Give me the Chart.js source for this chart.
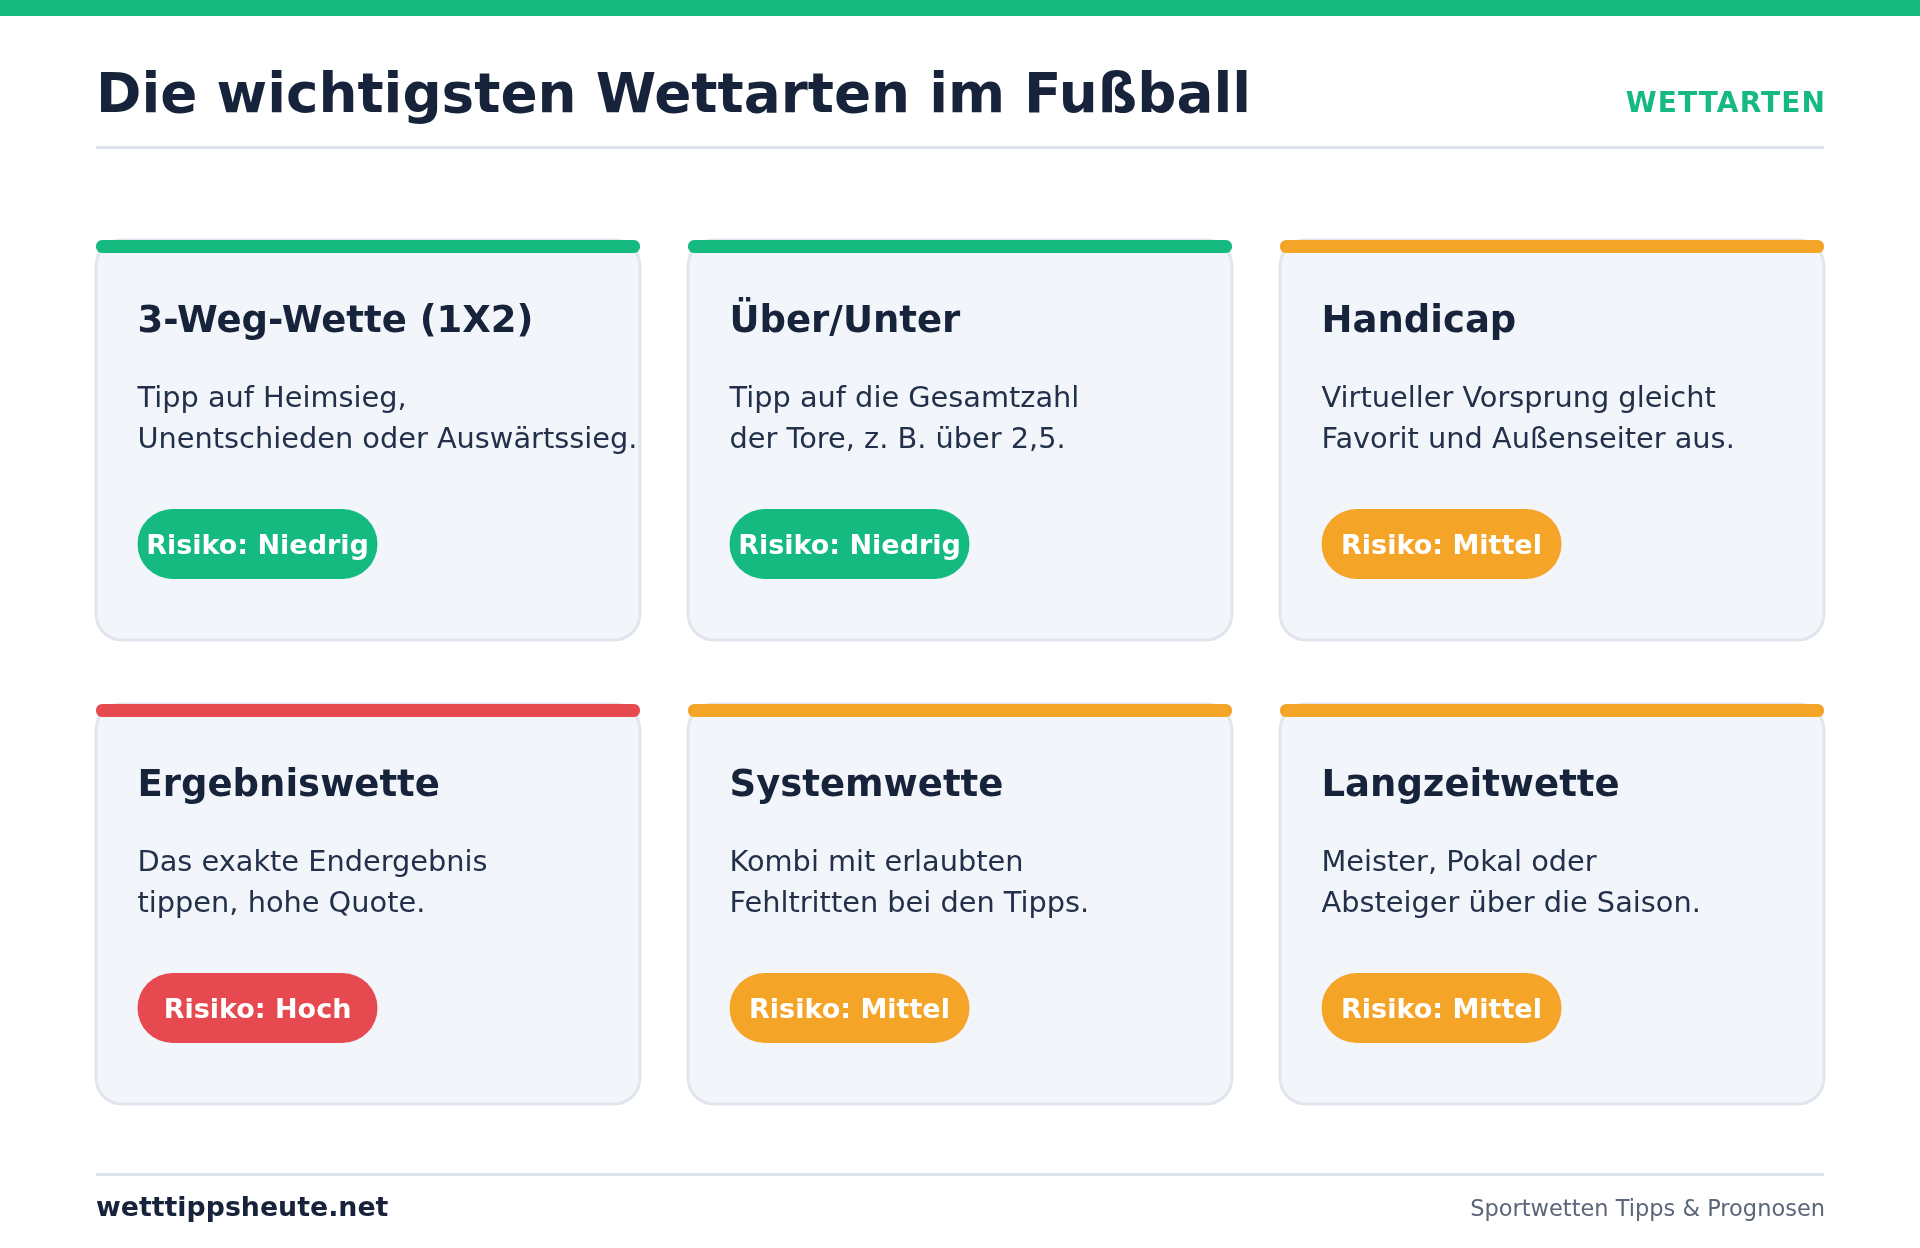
<!DOCTYPE html>
<html lang="de">
<head>
<meta charset="utf-8">
<title>Die wichtigsten Wettarten im Fußball</title>
<style>
  html, body { margin: 0; background: #ffffff; }
  canvas { display: block; }
</style>
</head>
<body>
<canvas id="wettChart" width="1920" height="1248"></canvas>
<script src="https://cdn.jsdelivr.net/npm/chart.js@4"></script>
<script>
const pageTitle = "Die wichtigsten Wettarten im Fußball";
const pageTag = "WETTARTEN";
const footerBrand = "wetttippsheute.net";
const footerNote = "Sportwetten Tipps & Prognosen";

const betTypes = ["3-Weg-Wette (1X2)", "Über/Unter", "Handicap", "Ergebniswette", "Systemwette", "Langzeitwette"];
const firstLines = ["Tipp auf Heimsieg,", "Tipp auf die Gesamtzahl", "Virtueller Vorsprung gleicht", "Das exakte Endergebnis", "Kombi mit erlaubten", "Meister, Pokal oder"];
const secondLines = ["Unentschieden oder Auswärtssieg.", "der Tore, z. B. über 2,5.", "Favorit und Außenseiter aus.", "tippen, hohe Quote.", "Fehltritten bei den Tipps.", "Absteiger über die Saison."];
const riskLevels = ["Niedrig", "Niedrig", "Mittel", "Hoch", "Mittel", "Mittel"];
const columns = [0, 1, 2, 0, 1, 2];
const rows = [0, 0, 0, 1, 1, 1];

const riskColors = { Niedrig: "#15BA80", Mittel: "#F4A527", Hoch: "#E64A50" };
const font = "'DejaVu Sans', sans-serif";
const dark = "#16233A";
const rule = "#E0E5ED";

const CARD_W = 544;
const CARD_H = 400;

function drawText(ctx, text, x, y, style, color, align = "left", spacing = "0px") {
  ctx.font = style + " " + font;
  ctx.fillStyle = color;
  ctx.textAlign = align;
  ctx.textBaseline = "alphabetic";
  ctx.letterSpacing = spacing;
  ctx.fillText(text, x, y);
  ctx.letterSpacing = "0px";
}

function fillRound(ctx, x, y, w, h, r, color) {
  ctx.beginPath();
  ctx.roundRect(x, y, w, h, r);
  ctx.fillStyle = color;
  ctx.fill();
}

// header, footer and the six cards; cards sit where the scales put each point
const cardsPlugin = {
  id: "cards",
  afterDatasetsDraw(chart) {
    const { ctx } = chart;
    ctx.save();

    fillRound(ctx, 0, 0, 1920, 16, 0, riskColors.Niedrig);
    drawText(ctx, pageTitle, 96, 112, "bold 54.8px", dark);
    drawText(ctx, pageTag, 1826, 112, "bold 28px", riskColors.Niedrig, "right", "1.1px");
    fillRound(ctx, 96, 146, 1728, 3, 0, rule);

    chart.getDatasetMeta(0).data.forEach((point, i) => {
      const left = point.x - CARD_W / 2;
      const top = point.y;
      const color = riskColors[riskLevels[i]];

      ctx.beginPath();
      ctx.roundRect(left, top, CARD_W, CARD_H, 26);
      ctx.fillStyle = "#F2F5FA";
      ctx.fill();
      ctx.lineWidth = 3;
      ctx.strokeStyle = rule;
      ctx.stroke();
      fillRound(ctx, left, top, CARD_W, 13, 6, color);

      drawText(ctx, betTypes[i], left + 41.5, top + 92, "bold 37px", dark);
      drawText(ctx, firstLines[i], left + 41.5, top + 167, "28.8px", "#22304A");
      drawText(ctx, secondLines[i], left + 41.5, top + 208, "28.8px", "#22304A");

      fillRound(ctx, left + 41.5, top + 269, 240, 70, 35, color);
      drawText(ctx, "Risiko: " + riskLevels[i], left + 161.5, top + 313.5, "bold 27px", "#FFFFFF", "center");
    });

    fillRound(ctx, 96, 1173, 1728, 3, 0, rule);
    drawText(ctx, footerBrand, 96, 1216, "bold 26.8px", dark);
    drawText(ctx, footerNote, 1825, 1216, "22.5px", "#5B6679", "right");
    ctx.restore();
  },
};

new Chart(document.getElementById("wettChart"), {
  type: "scatter",
  data: {
    labels: betTypes,
    datasets: [
      {
        data: columns.map((c, i) => ({ x: c, y: rows[i] })),
        pointRadius: 0,
      },
    ],
  },
  options: {
    responsive: false,
    animation: false,
    layout: { padding: 0 },
    plugins: { legend: { display: false }, tooltip: { enabled: false } },
    scales: {
      // one column is 592px, one row 464px on the 1920x1248 page
      x: { display: false, min: -368 / 592, max: 1552 / 592 },
      y: { display: false, reverse: true, min: -240 / 464, max: 1008 / 464 },
    },
  },
  plugins: [cardsPlugin],
});
</script>
</body>
</html>
